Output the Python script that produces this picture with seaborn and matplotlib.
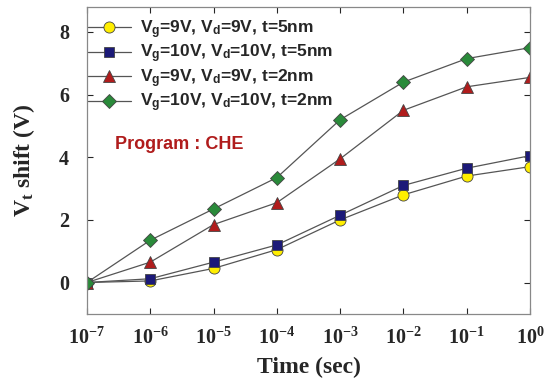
import numpy as np
import pandas as pd
import matplotlib
matplotlib.use('Agg')
import matplotlib.pyplot as plt
import seaborn as sns

# Veriler
time_s = [1e-7, 1e-6, 1e-5, 1e-4, 1e-3, 1e-2, 1e-1, 1e0]
vg9_t5 = [0.0, 0.05, 0.45, 1.05, 2.0, 2.8, 3.4, 3.7]
vg10_t5 = [0.0, 0.12, 0.65, 1.2, 2.15, 3.1, 3.65, 4.05]
vg9_t2 = [0.0, 0.65, 1.85, 2.55, 3.95, 5.5, 6.25, 6.55]
vg10_t2 = [0.0, 1.35, 2.35, 3.35, 5.2, 6.4, 7.15, 7.5]

labels = [
    r'V$_\mathbf{g}$=9V, V$_\mathbf{d}$=9V, t=5nm',
    r'V$_\mathbf{g}$=10V, V$_\mathbf{d}$=10V, t=5nm',
    r'V$_\mathbf{g}$=9V, V$_\mathbf{d}$=9V, t=2nm',
    r'V$_\mathbf{g}$=10V, V$_\mathbf{d}$=10V, t=2nm',
]
xtick_labels = [r'$\mathdefault{10^{-7}}$', r'$\mathdefault{10^{-6}}$', r'$\mathdefault{10^{-5}}$',
                r'$\mathdefault{10^{-4}}$', r'$\mathdefault{10^{-3}}$', r'$\mathdefault{10^{-2}}$',
                r'$\mathdefault{10^{-1}}$', r'$\mathdefault{10^{0}}$']

sns.set_style('ticks')
plt.rcParams['font.family'] = ['Liberation Serif', 'DejaVu Serif']
plt.rcParams['mathtext.fontset'] = 'custom'
plt.rcParams['mathtext.bf'] = 'Liberation Sans:bold'
plt.rcParams['mathtext.rm'] = 'Liberation Serif:bold'
plt.rcParams['mathtext.it'] = 'Liberation Serif:bold'
plt.rcParams['mathtext.sf'] = 'Liberation Serif:bold'

fig, ax = plt.subplots(figsize=(5.47, 3.86), dpi=100)
fig.subplots_adjust(left=0.159, right=0.969, top=0.982, bottom=0.187)

series = [vg9_t5, vg10_t5, vg9_t2, vg10_t2]
markers = ['o', 's', '^', 'D']
faces = ['#ffee00', '#1c1a78', '#b01c1c', '#2a8a3a']
sizes = [8, 7, 8.5, 7.5]
for vals, lab, m, fc, ms in zip(series, labels, markers, faces, sizes):
    df = pd.DataFrame({'time': time_s, 'shift': vals})
    sns.lineplot(data=df, x='time', y='shift', ax=ax, color='#555555', lw=0.9,
                 marker=m, markersize=ms, markerfacecolor=fc,
                 markeredgecolor='#444444', markeredgewidth=0.6, label=lab)

ax.set_xscale('log')
ax.set_xlim(1e-7, 1)
ax.set_ylim(-1, 8.8)
ax.set_xticks(time_s)
ax.set_xticklabels(xtick_labels)
ax.minorticks_off()
ax.set_yticks([0, 2, 4, 6, 8])
ax.tick_params(direction='in', top=True, right=True, length=4, width=0.8, labelsize=14.5)
ax.tick_params(axis='x', pad=10)
ax.tick_params(axis='y', pad=13)
for t in ax.get_xticklabels() + ax.get_yticklabels():
    t.set_fontweight('bold')
for s in ax.spines.values():
    s.set_color('#888888')
    s.set_linewidth(0.9)

ax.set_xlabel('Time (sec)', fontsize=17, fontweight='bold', labelpad=6)
ax.set_ylabel(r'$\mathsf{V_t}$ shift (V)', fontsize=17, fontweight='bold')
ax.yaxis.set_label_coords(-0.113, 0.5)

ax.text(2.8e-7, 4.25, 'Program : CHE', color='#b01c1c', fontsize=13, fontweight='bold',
        family='Liberation Sans')

leg = ax.legend(loc='upper left', frameon=False, handlelength=2.5,
                labelspacing=0.13, borderaxespad=0.0, borderpad=0.3, handletextpad=0.5,
                bbox_to_anchor=(-0.01, 0.98),
                prop={'family': 'Liberation Sans', 'weight': 'bold', 'size': 12.5})

plt.savefig('out.png', dpi=100)
plt.close()
